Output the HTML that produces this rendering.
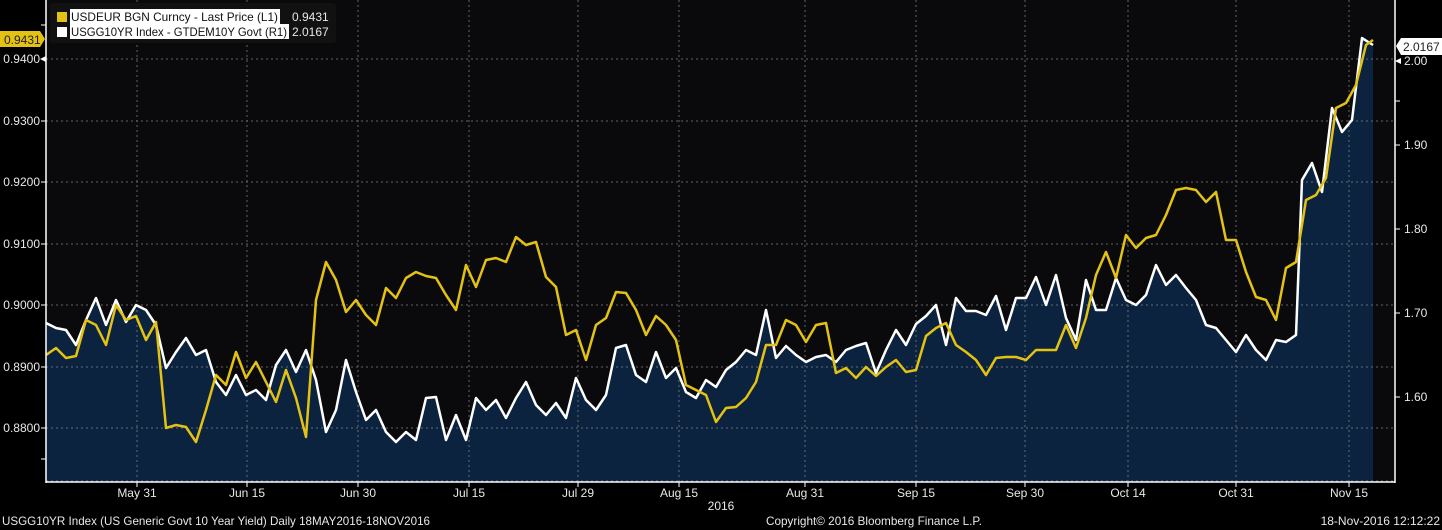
<!DOCTYPE html>
<html><head><meta charset="utf-8"><style>
html,body{margin:0;padding:0;background:#000;width:1442px;height:530px;overflow:hidden}
svg{display:block}
text{font-family:"Liberation Sans",sans-serif;font-size:12px;fill:#e8e8e8}
</style></head><body>
<svg width="1442" height="530" xmlns="http://www.w3.org/2000/svg">
<rect x="0" y="0" width="1442" height="530" fill="#000"/>
<rect x="46" y="0" width="1349" height="482" fill="#0a0a0d"/>
<polygon fill="#0c2340" points="46,482 46,323 56,328 66,330 76,345 86,320 96,298 106,325 116,300 126,322 136,305 146,310 156,325 166,368 176,352 186,338 196,355 206,350 216,382 226,395 236,375 246,395 256,390 266,400 276,365 286,350 296,372 306,350 316,380 326,432 336,410 346,360 356,392 366,420 376,410 386,432 396,442 406,432 416,440 426,398 436,397 446,440 456,415 466,440 476,398 486,410 496,400 506,418 516,398 526,382 536,405 546,415 556,403 566,418 576,378 586,400 596,410 606,395 616,348 626,345 636,375 646,382 656,352 666,378 676,368 686,392 696,398 706,380 716,387 726,370 736,362 746,350 756,355 766,310 776,358 786,346 796,355 806,362 816,357 826,355 836,362 846,350 856,346 866,343 876,373 886,350 896,330 906,345 916,324 926,316 936,305 946,345 956,298 966,311 976,311 986,315 996,296 1006,330 1016,298 1026,298 1036,277 1046,305 1056,275 1066,318 1076,340 1086,280 1096,310 1106,310 1116,278 1126,300 1136,305 1146,295 1156,265 1166,285 1176,275 1186,288 1196,300 1206,325 1216,328 1226,340 1236,352 1246,335 1256,350 1266,360 1276,340 1286,342 1296,335 1302,180 1312,163 1322,192 1332,108 1342,132 1352,120 1362,38 1373,45 1373,482"/>
<g stroke="#8a8a8a" stroke-width="1" stroke-dasharray="2,3" opacity="0.7">
<line x1="46" x2="1395" y1="59" y2="59"/><line x1="46" x2="1395" y1="121" y2="121"/><line x1="46" x2="1395" y1="182" y2="182"/><line x1="46" x2="1395" y1="244" y2="244"/><line x1="46" x2="1395" y1="305" y2="305"/><line x1="46" x2="1395" y1="367" y2="367"/><line x1="46" x2="1395" y1="428" y2="428"/><line x1="46" x2="1395" y1="481" y2="481"/>
<line x1="137" x2="137" y1="0" y2="482"/><line x1="247" x2="247" y1="0" y2="482"/><line x1="358" x2="358" y1="0" y2="482"/><line x1="469" x2="469" y1="0" y2="482"/><line x1="578" x2="578" y1="0" y2="482"/><line x1="679" x2="679" y1="0" y2="482"/><line x1="805" x2="805" y1="0" y2="482"/><line x1="916" x2="916" y1="0" y2="482"/><line x1="1025" x2="1025" y1="0" y2="482"/><line x1="1128" x2="1128" y1="0" y2="482"/><line x1="1236" x2="1236" y1="0" y2="482"/><line x1="1349" x2="1349" y1="0" y2="482"/>
</g>
<polyline fill="none" stroke="#fff" stroke-width="2.5" stroke-linejoin="round" points="46,323 56,328 66,330 76,345 86,320 96,298 106,325 116,300 126,322 136,305 146,310 156,325 166,368 176,352 186,338 196,355 206,350 216,382 226,395 236,375 246,395 256,390 266,400 276,365 286,350 296,372 306,350 316,380 326,432 336,410 346,360 356,392 366,420 376,410 386,432 396,442 406,432 416,440 426,398 436,397 446,440 456,415 466,440 476,398 486,410 496,400 506,418 516,398 526,382 536,405 546,415 556,403 566,418 576,378 586,400 596,410 606,395 616,348 626,345 636,375 646,382 656,352 666,378 676,368 686,392 696,398 706,380 716,387 726,370 736,362 746,350 756,355 766,310 776,358 786,346 796,355 806,362 816,357 826,355 836,362 846,350 856,346 866,343 876,373 886,350 896,330 906,345 916,324 926,316 936,305 946,345 956,298 966,311 976,311 986,315 996,296 1006,330 1016,298 1026,298 1036,277 1046,305 1056,275 1066,318 1076,340 1086,280 1096,310 1106,310 1116,278 1126,300 1136,305 1146,295 1156,265 1166,285 1176,275 1186,288 1196,300 1206,325 1216,328 1226,340 1236,352 1246,335 1256,350 1266,360 1276,340 1286,342 1296,335 1302,180 1312,163 1322,192 1332,108 1342,132 1352,120 1362,38 1373,45"/>
<polyline fill="none" stroke="#e3c214" stroke-width="2.5" stroke-linejoin="round" points="46,355 56,348 66,358 76,356 86,320 96,325 106,345 116,305 126,320 136,316 146,340 156,322 166,428 176,425 186,427 196,442 206,410 216,375 226,385 236,352 246,378 256,362 266,382 276,402 286,370 296,398 306,437 316,300 326,262 336,280 346,312 356,300 366,315 376,325 386,288 396,298 406,278 416,272 426,276 436,278 446,295 456,310 466,265 476,287 486,260 496,258 506,262 516,237 526,245 536,242 546,277 556,287 566,335 576,330 586,360 596,325 606,318 616,292 626,293 636,310 646,335 656,316 666,325 676,340 686,385 696,390 706,395 716,422 726,408 736,407 746,398 756,382 766,345 776,345 786,320 796,325 806,342 816,325 826,323 836,373 846,368 856,378 866,367 876,376 886,367 896,360 906,372 916,370 926,336 936,328 946,323 956,345 966,352 976,360 986,375 996,358 1006,357 1016,357 1026,360 1036,350 1046,350 1056,350 1066,325 1076,348 1086,318 1096,275 1106,252 1116,278 1126,235 1136,248 1146,238 1156,235 1166,215 1176,190 1186,188 1196,190 1206,202 1216,192 1226,240 1236,240 1246,272 1256,297 1266,300 1276,320 1286,268 1296,262 1306,200 1316,195 1326,178 1336,108 1346,103 1356,85 1366,45 1373,40"/>
<line x1="46" y1="0" x2="46" y2="483" stroke="#fff" stroke-width="1.5"/>
<line x1="1395" y1="0" x2="1395" y2="483" stroke="#fff" stroke-width="1.5"/>
<line x1="46" y1="482" x2="1395" y2="482" stroke="#fff" stroke-width="1.5"/>
<g fill="#fff">
<polygon points="40,59 46,56 46,62"/><polygon points="1395,61 1401,58 1401,64"/>
</g>
<g stroke="#fff" stroke-width="1">
<line x1="41" x2="46" y1="121" y2="121"/><line x1="41" x2="46" y1="182" y2="182"/><line x1="41" x2="46" y1="244" y2="244"/><line x1="41" x2="46" y1="305" y2="305"/><line x1="41" x2="46" y1="367" y2="367"/><line x1="41" x2="46" y1="428" y2="428"/><line x1="41" x2="46" y1="25" y2="25"/><line x1="41" x2="46" y1="459" y2="459"/>
<line x1="1395" x2="1400" y1="145" y2="145"/><line x1="1395" x2="1400" y1="229" y2="229"/><line x1="1395" x2="1400" y1="313" y2="313"/><line x1="1395" x2="1400" y1="397" y2="397"/><line x1="1395" x2="1400" y1="101" y2="101"/>
<line x1="137" x2="137" y1="482" y2="487"/><line x1="247" x2="247" y1="482" y2="487"/><line x1="358" x2="358" y1="482" y2="487"/><line x1="469" x2="469" y1="482" y2="487"/><line x1="578" x2="578" y1="482" y2="487"/><line x1="679" x2="679" y1="482" y2="487"/><line x1="805" x2="805" y1="482" y2="487"/><line x1="916" x2="916" y1="482" y2="487"/><line x1="1025" x2="1025" y1="482" y2="487"/><line x1="1128" x2="1128" y1="482" y2="487"/><line x1="1236" x2="1236" y1="482" y2="487"/><line x1="1349" x2="1349" y1="482" y2="487"/>
</g>
<g text-anchor="end">
<text x="40" y="63">0.9400</text><text x="40" y="125">0.9300</text><text x="40" y="186">0.9200</text><text x="40" y="248">0.9100</text><text x="40" y="309">0.9000</text><text x="40" y="371">0.8900</text><text x="40" y="432">0.8800</text>
</g>
<polygon points="0,31 40,31 45,39 40,47 0,47" fill="#e3c214"/>
<text x="4" y="44" style="fill:#222">0.9431</text>
<g>
<text x="1404" y="65">2.00</text><text x="1404" y="149">1.90</text><text x="1404" y="233">1.80</text><text x="1404" y="317">1.70</text><text x="1404" y="401">1.60</text>
</g>
<polygon points="1396,46 1401,38 1442,38 1442,55 1401,55" fill="#fff"/>
<text x="1403" y="51" style="fill:#222">2.0167</text>
<g text-anchor="middle">
<text x="137" y="497">May 31</text><text x="247" y="497">Jun 15</text><text x="358" y="497">Jun 30</text><text x="469" y="497">Jul 15</text><text x="578" y="497">Jul 29</text><text x="679" y="497">Aug 15</text><text x="805" y="497">Aug 31</text><text x="916" y="497">Sep 15</text><text x="1025" y="497">Sep 30</text><text x="1128" y="497">Oct 14</text><text x="1236" y="497">Oct 31</text><text x="1349" y="497">Nov 15</text>
<text x="721" y="510">2016</text>
</g>
<text x="2" y="525" textLength="428" lengthAdjust="spacingAndGlyphs">USGG10YR Index (US Generic Govt 10 Year Yield)  Daily 18MAY2016-18NOV2016</text>
<text x="766" y="525" textLength="216" lengthAdjust="spacingAndGlyphs">Copyright© 2016 Bloomberg Finance L.P.</text>
<text x="1440" y="525" text-anchor="end">18-Nov-2016 12:12:22</text>
<rect x="50" y="3" width="286" height="40" rx="3" fill="#111"/>
<rect x="57" y="12" width="10" height="10" fill="#e3c214"/>
<rect x="57" y="27" width="10" height="10" fill="#fff"/>
<rect x="70" y="9" width="210" height="15" fill="#fff"/>
<rect x="70" y="24" width="219" height="15" fill="#fff"/>
<text x="71" y="21" style="fill:#111" textLength="207" lengthAdjust="spacingAndGlyphs">USDEUR BGN Curncy - Last Price (L1)</text>
<text x="71" y="36" style="fill:#111" textLength="216" lengthAdjust="spacingAndGlyphs">USGG10YR Index - GTDEM10Y Govt (R1)</text>
<text x="292" y="21">0.9431</text>
<text x="292" y="36">2.0167</text>
</svg>
</body></html>
